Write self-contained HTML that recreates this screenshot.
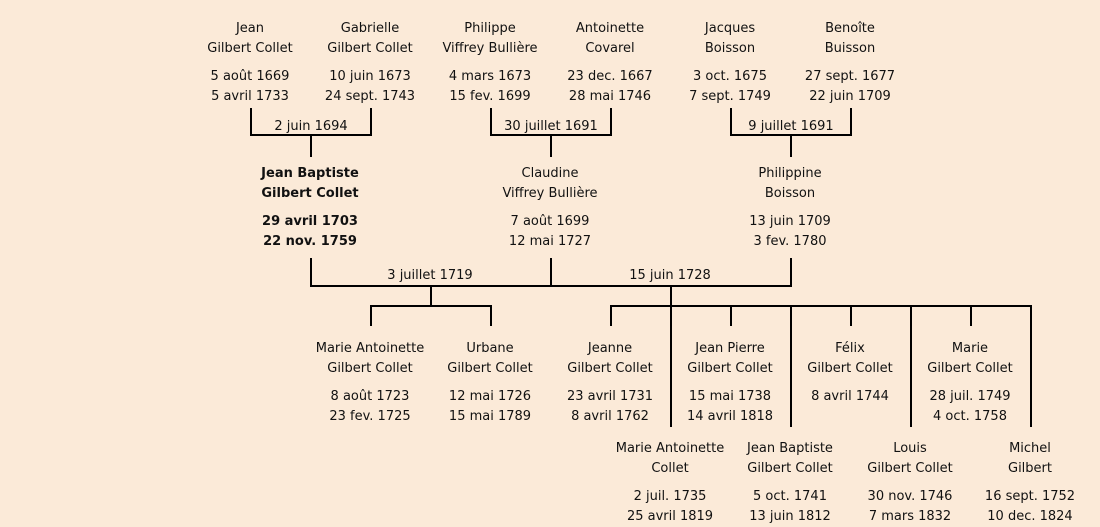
<!DOCTYPE html>
<html><head><meta charset="utf-8"><style>
body{margin:0;width:1100px;height:521px;background:#fbead8;overflow:hidden;position:relative;font-family:"DejaVu Sans","Liberation Sans",sans-serif;font-size:13px;color:#111}
.t{position:absolute;width:180px;margin-left:-90px;text-align:center;line-height:20px;white-space:nowrap}
.b{font-weight:bold}
svg{position:absolute;left:0;top:0}
</style></head><body>
<svg width="1100" height="521" stroke="#000" stroke-width="2" fill="none">
<path d="M251 108V135H371V108M311 135V157"/>
<path d="M491 108V135H611V108M551 135V157"/>
<path d="M731 108V135H851V108M791 135V157"/>
<path d="M311 258V286H791V258M551 258V286"/>
<path d="M431 286V306M371 326V306H491V326"/>
<path d="M671 286V306M611 326V306H1031V427M731 306V326M851 306V326M971 306V326M671 306V427M791 306V427M911 306V427"/>
</svg>
<div class="t" style="left:250px;top:19px">Jean<br>Gilbert Collet</div>
<div class="t" style="left:250px;top:67px">5 août 1669<br>5 avril 1733</div>
<div class="t" style="left:370px;top:19px">Gabrielle<br>Gilbert Collet</div>
<div class="t" style="left:370px;top:67px">10 juin 1673<br>24 sept. 1743</div>
<div class="t" style="left:490px;top:19px">Philippe<br>Viffrey Bullière</div>
<div class="t" style="left:490px;top:67px">4 mars 1673<br>15 fev. 1699</div>
<div class="t" style="left:610px;top:19px">Antoinette<br>Covarel</div>
<div class="t" style="left:610px;top:67px">23 dec. 1667<br>28 mai 1746</div>
<div class="t" style="left:730px;top:19px">Jacques<br>Boisson</div>
<div class="t" style="left:730px;top:67px">3 oct. 1675<br>7 sept. 1749</div>
<div class="t" style="left:850px;top:19px">Benoîte<br>Buisson</div>
<div class="t" style="left:850px;top:67px">27 sept. 1677<br>22 juin 1709</div>
<div class="t" style="left:311px;top:117px">2 juin 1694</div>
<div class="t" style="left:551px;top:117px">30 juillet 1691</div>
<div class="t" style="left:791px;top:117px">9 juillet 1691</div>
<div class="t b" style="left:310px;top:164px">Jean Baptiste<br>Gilbert Collet</div>
<div class="t b" style="left:310px;top:212px">29 avril 1703<br>22 nov. 1759</div>
<div class="t" style="left:550px;top:164px">Claudine<br>Viffrey Bullière</div>
<div class="t" style="left:550px;top:212px">7 août 1699<br>12 mai 1727</div>
<div class="t" style="left:790px;top:164px">Philippine<br>Boisson</div>
<div class="t" style="left:790px;top:212px">13 juin 1709<br>3 fev. 1780</div>
<div class="t" style="left:430px;top:266px">3 juillet 1719</div>
<div class="t" style="left:670px;top:266px">15 juin 1728</div>
<div class="t" style="left:370px;top:339px">Marie Antoinette<br>Gilbert Collet</div>
<div class="t" style="left:370px;top:387px">8 août 1723<br>23 fev. 1725</div>
<div class="t" style="left:490px;top:339px">Urbane<br>Gilbert Collet</div>
<div class="t" style="left:490px;top:387px">12 mai 1726<br>15 mai 1789</div>
<div class="t" style="left:610px;top:339px">Jeanne<br>Gilbert Collet</div>
<div class="t" style="left:610px;top:387px">23 avril 1731<br>8 avril 1762</div>
<div class="t" style="left:730px;top:339px">Jean Pierre<br>Gilbert Collet</div>
<div class="t" style="left:730px;top:387px">15 mai 1738<br>14 avril 1818</div>
<div class="t" style="left:850px;top:339px">Félix<br>Gilbert Collet</div>
<div class="t" style="left:850px;top:387px">8 avril 1744</div>
<div class="t" style="left:970px;top:339px">Marie<br>Gilbert Collet</div>
<div class="t" style="left:970px;top:387px">28 juil. 1749<br>4 oct. 1758</div>
<div class="t" style="left:670px;top:439px">Marie Antoinette<br>Collet</div>
<div class="t" style="left:670px;top:487px">2 juil. 1735<br>25 avril 1819</div>
<div class="t" style="left:790px;top:439px">Jean Baptiste<br>Gilbert Collet</div>
<div class="t" style="left:790px;top:487px">5 oct. 1741<br>13 juin 1812</div>
<div class="t" style="left:910px;top:439px">Louis<br>Gilbert Collet</div>
<div class="t" style="left:910px;top:487px">30 nov. 1746<br>7 mars 1832</div>
<div class="t" style="left:1030px;top:439px">Michel<br>Gilbert</div>
<div class="t" style="left:1030px;top:487px">16 sept. 1752<br>10 dec. 1824</div>
</body></html>
